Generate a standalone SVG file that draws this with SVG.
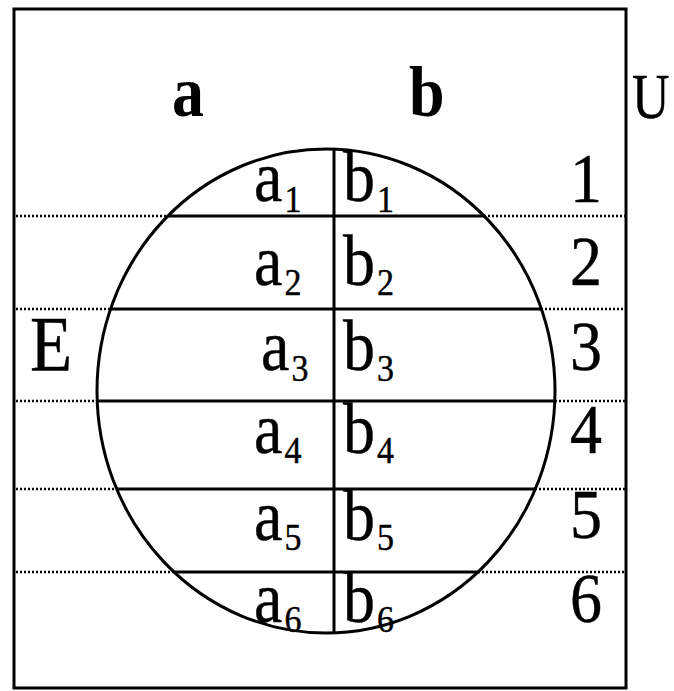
<svg xmlns="http://www.w3.org/2000/svg" width="674" height="691" viewBox="0 0 674 691">
<style>
.t{font-family:"Liberation Serif","Times New Roman",serif;fill:#000;stroke:#000;stroke-width:0.4}
.m{font-size:64px}
.lab{font-size:64px;font-weight:bold;stroke-width:0}
.sub{font-size:34px}
.solid{stroke:#000;stroke-width:3;fill:none}
.dot{stroke:#000;stroke-width:2.5;stroke-dasharray:2 2;fill:none}
</style>
<rect width="674" height="691" fill="#fff"/>
<g id="universe">
<rect x="14" y="9" width="612" height="679" class="solid"/>
<text transform="translate(632,118) scale(1,1.2)" class="t" style="font-size:52px">U</text>
</g>
<g id="columns">
<text transform="translate(172,116) scale(1,1.12)" class="t lab">a</text>
<text transform="translate(409,116) scale(1,1.12)" class="t lab">b</text>
</g>
<g id="event">
<ellipse cx="326" cy="391" rx="229" ry="242" class="solid"/>
<text transform="translate(30,370) scale(1,1.13)" class="t" style="font-size:69px">E</text>
</g>
<g id="connectors">
<line x1="334" y1="149" x2="334" y2="633" class="solid"/>
<line x1="168" y1="216" x2="484" y2="216" class="solid"/>
<line x1="111" y1="309" x2="541" y2="309" class="solid"/>
<line x1="97" y1="401" x2="555" y2="401" class="solid"/>
<line x1="117" y1="489" x2="535" y2="489" class="solid"/>
<line x1="174" y1="572" x2="478" y2="572" class="solid"/>
<line x1="16" y1="216" x2="168" y2="216" class="dot"/>
<line x1="484" y1="216" x2="625" y2="216" class="dot"/>
<line x1="16" y1="309" x2="111" y2="309" class="dot"/>
<line x1="541" y1="309" x2="625" y2="309" class="dot"/>
<line x1="16" y1="401" x2="97" y2="401" class="dot"/>
<line x1="555" y1="401" x2="625" y2="401" class="dot"/>
<line x1="16" y1="489" x2="117" y2="489" class="dot"/>
<line x1="535" y1="489" x2="625" y2="489" class="dot"/>
<line x1="16" y1="572" x2="174" y2="572" class="dot"/>
<line x1="478" y1="572" x2="625" y2="572" class="dot"/>
</g>
<g id="row1">
<text transform="translate(254,201) scale(1,1.12)" class="t m">a<tspan class="sub" dx="2" dy="10">1</tspan></text>
<text transform="translate(343,201) scale(1,1.12)" class="t m">b<tspan class="sub" dx="2" dy="10">1</tspan></text>
<text transform="translate(602,202) scale(1,1.1)" class="t m" text-anchor="end">1</text>
</g>
<g id="row2">
<text transform="translate(254,285) scale(1,1.12)" class="t m">a<tspan class="sub" dx="2" dy="9">2</tspan></text>
<text transform="translate(343,285) scale(1,1.12)" class="t m">b<tspan class="sub" dx="2" dy="9">2</tspan></text>
<text transform="translate(602,285) scale(1,1.1)" class="t m" text-anchor="end">2</text>
</g>
<g id="row3">
<text transform="translate(261,370) scale(1,1.12)" class="t m">a<tspan class="sub" dx="2" dy="10">3</tspan></text>
<text transform="translate(343,370) scale(1,1.12)" class="t m">b<tspan class="sub" dx="2" dy="10">3</tspan></text>
<text transform="translate(602,370) scale(1,1.1)" class="t m" text-anchor="end">3</text>
</g>
<g id="row4">
<text transform="translate(254,453) scale(1,1.12)" class="t m">a<tspan class="sub" dx="2" dy="9">4</tspan></text>
<text transform="translate(343,453) scale(1,1.12)" class="t m">b<tspan class="sub" dx="2" dy="9">4</tspan></text>
<text transform="translate(602,453) scale(1,1.1)" class="t m" text-anchor="end">4</text>
</g>
<g id="row5">
<text transform="translate(254,540) scale(1,1.12)" class="t m">a<tspan class="sub" dx="2" dy="9">5</tspan></text>
<text transform="translate(343,540) scale(1,1.12)" class="t m">b<tspan class="sub" dx="2" dy="9">5</tspan></text>
<text transform="translate(602,538) scale(1,1.1)" class="t m" text-anchor="end">5</text>
</g>
<g id="row6">
<text transform="translate(254,622) scale(1,1.12)" class="t m">a<tspan class="sub" dx="2" dy="9">6</tspan></text>
<text transform="translate(343,622) scale(1,1.12)" class="t m">b<tspan class="sub" dx="2" dy="9">6</tspan></text>
<text transform="translate(602,622) scale(1,1.1)" class="t m" text-anchor="end">6</text>
</g>
</svg>
